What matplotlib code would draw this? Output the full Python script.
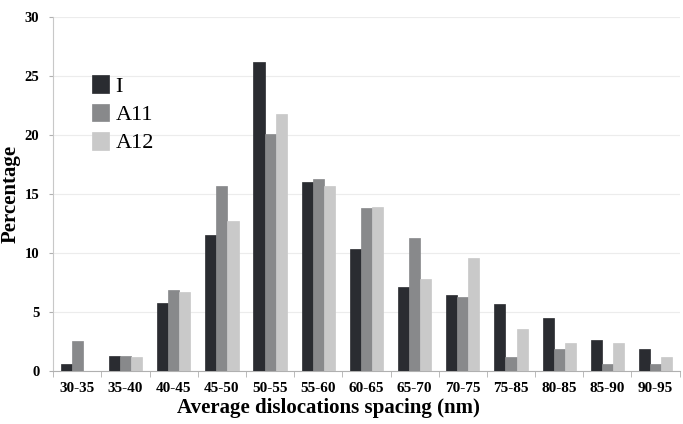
import matplotlib

matplotlib.use("Agg")
import matplotlib.pyplot as plt
import numpy as np

# --- data ------------------------------------------------------------------
categories = ["30-35", "35-40", "40-45", "45-50", "50-55", "55-60", "60-65",
              "65-70", "70-75", "75-85", "80-85", "85-90", "90-95"]
series_names = ["I", "A11", "A12"]
vals_i = [0.6, 1.3, 5.8, 11.5, 26.2, 16.0, 10.3, 7.1, 6.4, 5.7, 4.5, 2.6, 1.9]
vals_a11 = [2.5, 1.3, 6.9, 15.7, 20.1, 16.3, 13.8, 11.3, 6.3, 1.2, 1.9, 0.6, 0.6]
vals_a12 = [0.0, 1.2, 6.7, 12.7, 21.8, 15.7, 13.9, 7.8, 9.6, 3.6, 2.4, 2.4, 1.2]
y_ticks = [0, 5, 10, 15, 20, 25, 30]

colors = ["#2a2c31", "#88898b", "#c9c9c9"]

plt.rcParams.update({
    "font.family": ["Liberation Serif", "DejaVu Serif"],
})

fig = plt.figure(figsize=(6.83, 4.24), dpi=100)
ax = fig.add_axes([0.078, 0.125, 0.917, 0.835])

x = np.arange(len(categories))
w = 0.23
for k, (vals, name, col) in enumerate(zip([vals_i, vals_a11, vals_a12],
                                           series_names, colors)):
    ax.bar(x + (k - 1) * w, vals, w, color=col, label=name, zorder=3,
           edgecolor=col, linewidth=0.5)

ax.set_xlim(-0.5, len(categories) - 0.5)
ax.set_ylim(0, 30)
ax.set_yticks(y_ticks)
ax.set_yticklabels([str(t) for t in y_ticks], fontweight="bold", fontsize=10.5)
ax.set_xticks(x)
ax.set_xticklabels(categories, fontweight="bold", fontsize=11)
ax.set_xticks(np.arange(len(categories) + 1) - 0.5, minor=True)
ax.tick_params(axis="x", which="major", length=0, pad=8)
ax.tick_params(axis="x", which="minor", length=4, color="#b0b0b0")
ax.tick_params(axis="y", length=3, color="#b0b0b0", pad=7)

ax.grid(axis="y", color="#ececec", lw=0.8, zorder=0)
for side in ["top", "right"]:
    ax.spines[side].set_visible(False)
ax.spines["left"].set_color("#c8c8c8")
ax.spines["bottom"].set_color("#b0b0b0")

ax.set_ylabel("Percentage", fontweight="bold", fontsize=15, va="center")
ax.yaxis.set_label_coords(-0.068, 0.5)
ax.set_xlabel("Average dislocations spacing (nm)", fontweight="bold",
              fontsize=15, va="center")
ax.xaxis.set_label_coords(0.44, -0.105)

ax.legend(loc="upper left", bbox_to_anchor=(0.048, 0.86), frameon=False,
          fontsize=16, handlelength=0.75, handleheight=0.85, handletextpad=0.3,
          labelspacing=0.3, borderaxespad=0)

fig.savefig("out.png", dpi=100)
